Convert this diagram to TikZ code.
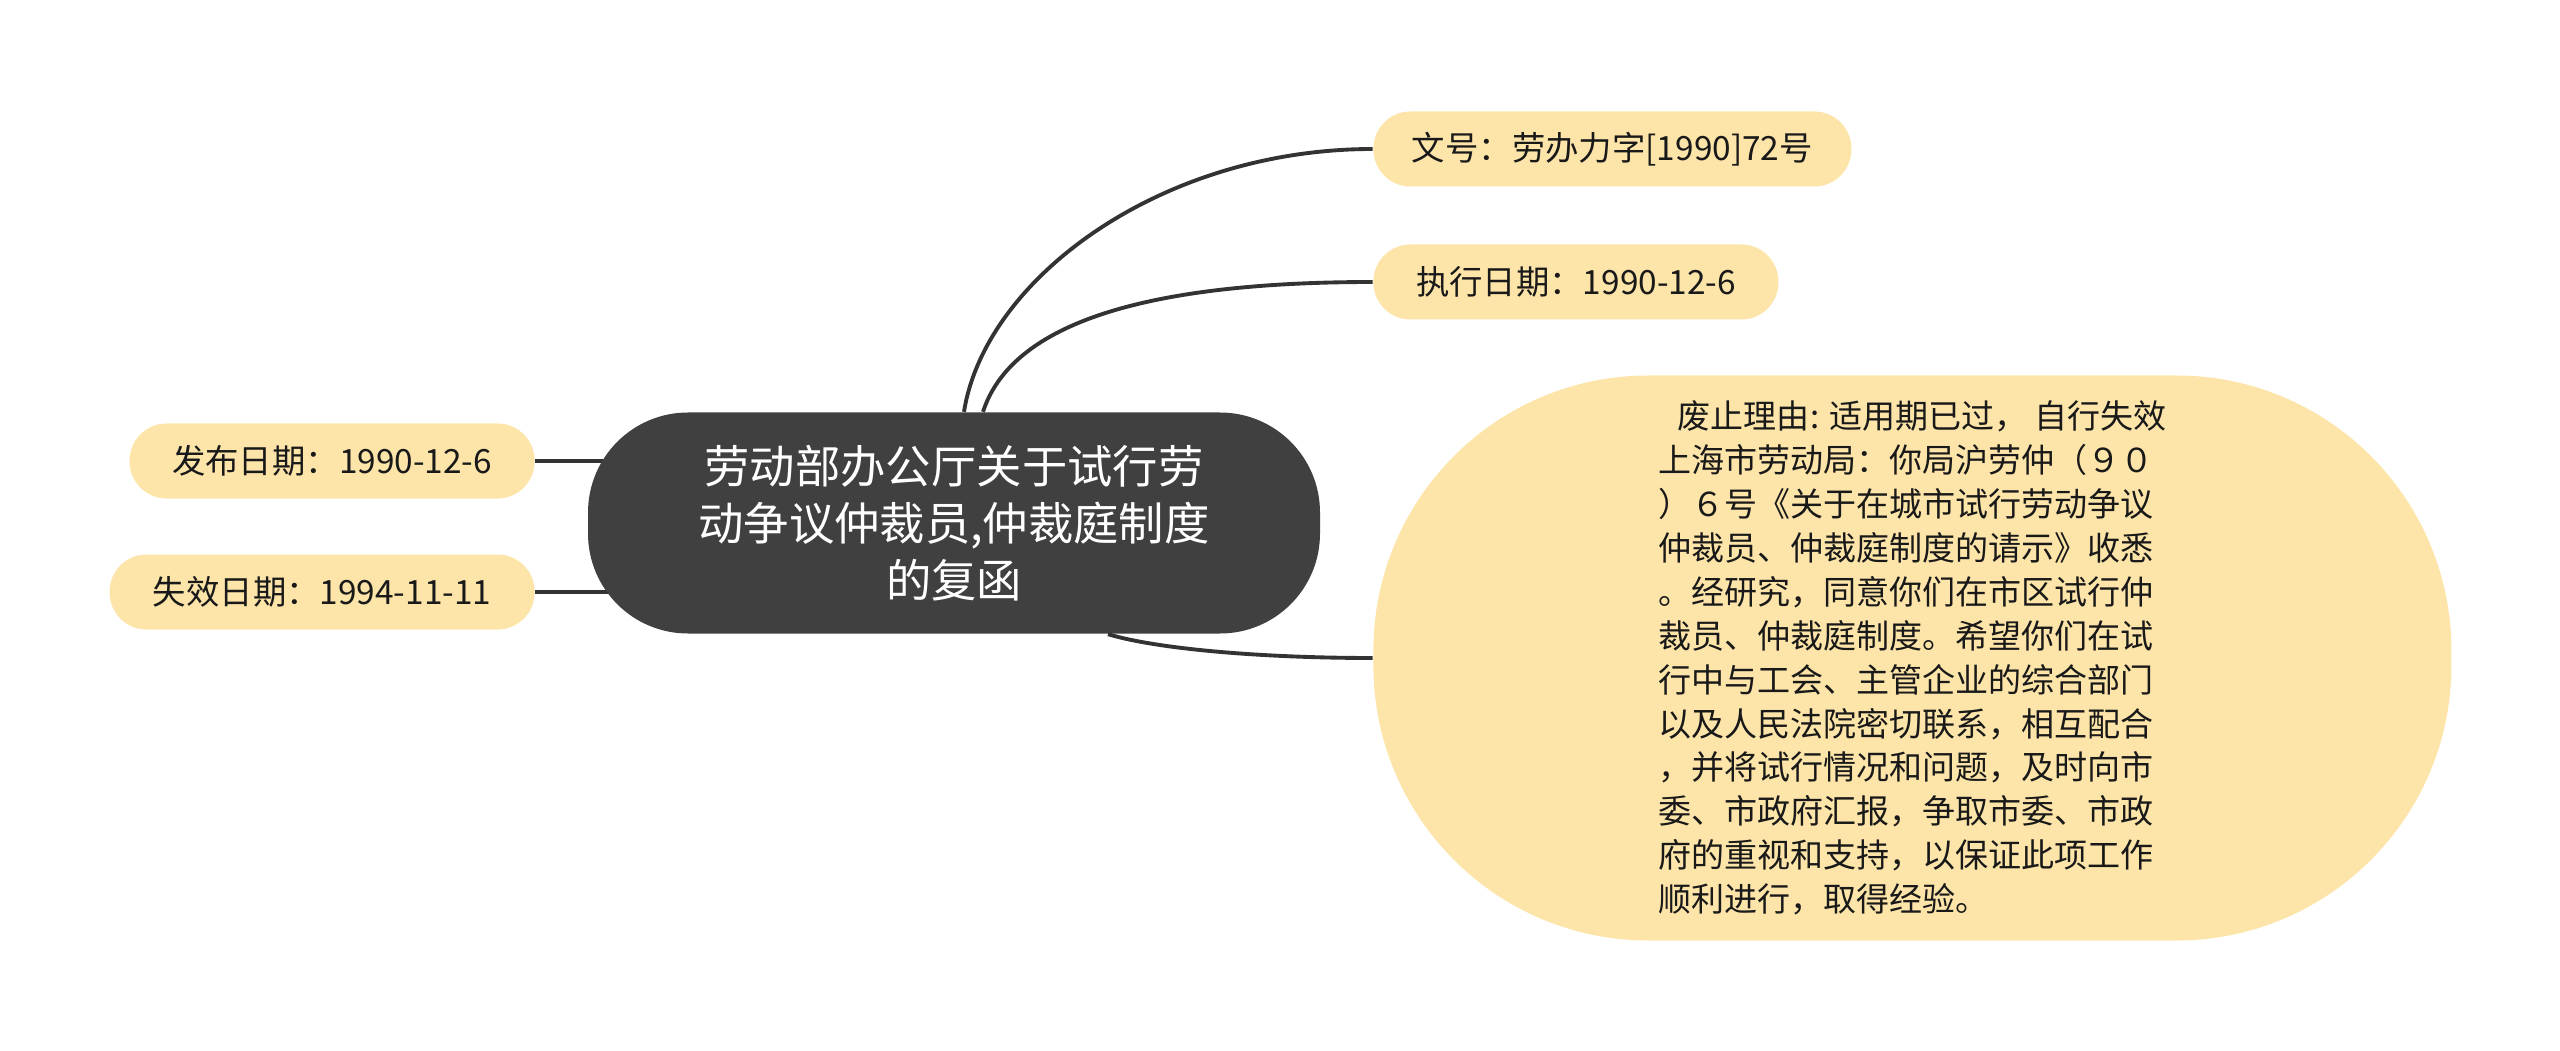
\documentclass[tikz,border=0pt]{standalone}
\usepackage{fontspec}
\setmainfont{Noto Sans CJK SC}
\definecolor{topicdark}{RGB}{64, 64, 64}
\definecolor{leafcream}{RGB}{253, 229, 170}
\definecolor{linkgray}{RGB}{51, 51, 51}
\usetikzlibrary{positioning, backgrounds}

\begin{document}
\begin{tikzpicture}[
    leaf/.style={fill=leafcream, rounded corners=0.37cm, minimum height=0.75cm,
                 inner sep=0pt, text=black!90, font=\fontsize{9.5pt}{12pt}\selectfont},
    link/.style={draw=linkgray, line width=1.1pt}
  ]
    \useasboundingbox (0,0) rectangle (25.6,10.5);

    \node[fill=topicdark, rounded corners=1cm,
          minimum width=7.32cm, minimum height=2.21cm, inner sep=0pt,
          align=center, text=white, font=\fontsize{12.9pt}{16.2pt}\selectfont] (title)
          at (9.54,5.27)
          {劳动部办公厅关于试行劳\\动争议仲裁员,仲裁庭制度\\的复函};

    \node[leaf, minimum width=4.78cm, right=0.52cm of title, yshift=3.74cm] (wenhao)
          {文号：劳办力字[1990]72号};
    \node[leaf, minimum width=4.05cm, right=0.52cm of title, yshift=2.41cm] (zhixing)
          {执行日期：1990-12-6};
    \node[leaf, minimum width=4.05cm, left=0.52cm of title, yshift=0.62cm] (fabu)
          {发布日期：1990-12-6};
    \node[leaf, minimum width=4.25cm, left=0.52cm of title, yshift=-0.69cm] (shixiao)
          {失效日期：1994-11-11};
    \node[leaf, rounded corners=2.75cm,
          minimum width=10.78cm, minimum height=5.65cm,
          align=left, font=\fontsize{9.4pt}{12.5pt}\selectfont,
          right=0.52cm of title, yshift=-1.35cm] (reason)
      {\hspace*{0.6em}废止理由: 适用期已过， 自行失效\\
       上海市劳动局：你局沪劳仲（９０\\
       ）６号《关于在城市试行劳动争议\\
       仲裁员、仲裁庭制度的请示》收悉\\
       。经研究，同意你们在市区试行仲\\
       裁员、仲裁庭制度。希望你们在试\\
       行中与工会、主管企业的综合部门\\
       以及人民法院密切联系，相互配合\\
       ，并将试行情况和问题，及时向市\\
       委、市政府汇报，争取市委、市政\\
       府的重视和支持，以保证此项工作\\
       顺利进行，取得经验。};

    \begin{scope}[on background layer]
      \draw[link] (fabu.east) -- (fabu.east -| title.center);
      \draw[link] (shixiao.east) -- (shixiao.east -| title.center);
    \end{scope}
    \draw[link] ([xshift=0.1cm]title.north)
      .. controls +(0.21,1.33) and +(-2.12,0) .. (wenhao.west);
    \draw[link] ([xshift=0.29cm]title.north)
      .. controls +(0.27,0.83) and +(-2.42,0) .. (zhixing.west);
    \draw[link] ([xshift=1.54cm]title.south)
      .. controls +(0.5,-0.15) and +(-1.1,0) .. (reason.west);
  \end{tikzpicture}
\end{document}
